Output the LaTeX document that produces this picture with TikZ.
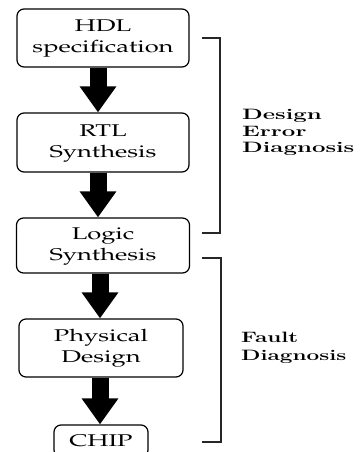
\documentclass[tikz,border=0pt]{standalone}
\usepackage[T1,TU]{fontenc}
\usepackage{graphicx}
\usetikzlibrary{arrows.meta, positioning}

\newcommand{\boxfont}{\fontencoding{T1}\fontfamily{ppl}\fontsize{17}{21}\selectfont}
\newcommand{\widec}[1]{\scalebox{1.5}[1]{\begin{tabular}{@{}c@{}}#1\end{tabular}}}
\newcommand{\sidetext}[2]{\scalebox{#1}[1]{\fontsize{15}{18}\selectfont\bfseries #2}}

\begin{document}
\begin{tikzpicture}[x=1pt, y=-1pt,
  stage/.style={draw=black, line width=1.2pt, rounded corners=7pt, inner sep=0pt, font=\boxfont},
  bigarrow/.style={line width=17pt, -{Triangle[width=35pt, length=26pt]}},
  bracket/.style={line width=1.1pt, black!85},
  sidelabel/.style={anchor=base west, inner sep=0pt}]
  \useasboundingbox (0,0) rectangle (360,452);
  % design flow
  \node[stage, minimum width=172pt, minimum height=58pt] (hdl) at (103,38) {\widec{HDL\\specification}};
  \node[stage, minimum width=172pt, minimum height=59pt] (rtl) at (103,142.5) {\widec{RTL\\Synthesis}};
  \node[stage, minimum width=173pt, minimum height=55pt] (logic) at (103,245.5) {\widec{Logic\\Synthesis}};
  \node[stage, minimum width=164pt, minimum height=58pt] (phys) at (101,348) {\widec{Physical\\Design}};
  \node[stage, minimum width=94pt, minimum height=32pt] (chip) at (101,441) {\scalebox{1.5}[1]{CHIP}};
  % block arrows between stages
  \draw[bigarrow] ([xshift=-5pt]hdl.south) -- ([xshift=-5pt]rtl.north);
  \draw[bigarrow] ([xshift=-5pt]rtl.south) -- ([xshift=-5pt]logic.north);
  \draw[bigarrow] ([xshift=-3pt]logic.south) -- ([xshift=-1pt]phys.north);
  \draw[bigarrow] ([xshift=-1pt]phys.south) -- ([xshift=-1pt]chip.north);
  % brackets
  \draw[bracket] (202,38) -| (220,233) -- (202,233);
  \draw[bracket] (202,258) -| (221,442) -- (202,442);
  \node[sidelabel] (design) at (242,119) {\sidetext{1.6}{Design}};
  \node[sidelabel] (error) at (242,136) {\sidetext{1.6}{Error}};
  \node[sidelabel] (diag1) at (242,152) {\sidetext{1.6}{Diagnosis}};
  \node[sidelabel] (fault) at (241,342) {\sidetext{1.5}{Fault}};
  \node[sidelabel] (diag2) at (241,360) {\sidetext{1.5}{Diagnosis}};
\end{tikzpicture}
\end{document}
